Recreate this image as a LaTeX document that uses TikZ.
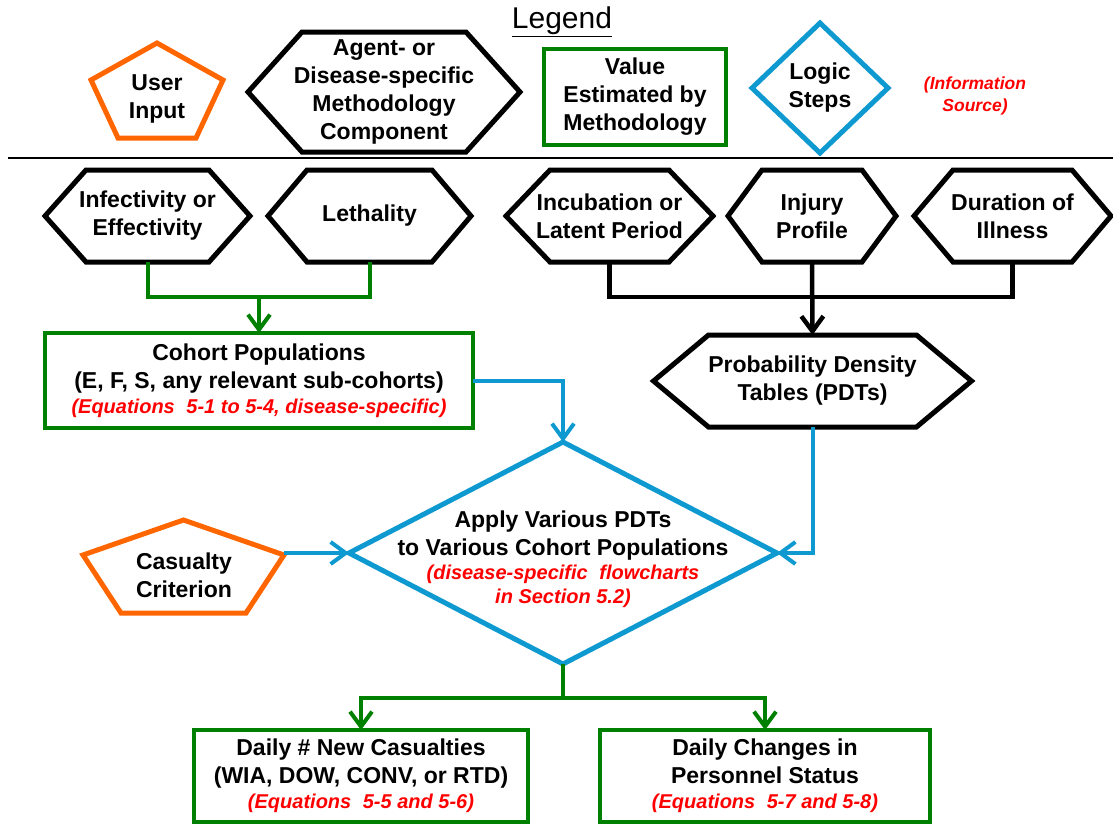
\documentclass[tikz,border=0pt]{standalone}
\usepackage{fontspec}
\setmainfont{Liberation Sans}
\usetikzlibrary{arrows.meta}
\definecolor{uorange}{HTML}{FF6600}
\definecolor{vgreen}{HTML}{008000}
\definecolor{lblue}{HTML}{0E9AD0}
\definecolor{srcred}{HTML}{FF0000}
\newcommand\srctext[1]{{\color{srcred}\bfseries\itshape\fontsize{20}{23}\selectfont #1}}
\newcommand\hexout[2]{\draw[hexline] (#1.west) -- ([xshift=#2pt]#1.north west) -- ([xshift=-#2pt]#1.north east) -- (#1.east) -- ([xshift=-#2pt]#1.south east) -- ([xshift=#2pt]#1.south west) -- cycle;}
\newcommand\diaout[1]{\draw[dialine] (#1.north) -- (#1.east) -- (#1.south) -- (#1.west) -- cycle;}
\newcommand\pentout[3]{\draw[pentline] (#1.north) -- ([yshift=-#2pt]#1.north east) -- ([xshift=-#3pt]#1.south east) -- ([xshift=#3pt]#1.south west) -- ([yshift=-#2pt]#1.north west) -- cycle;}
\begin{document}
\begin{tikzpicture}[x=1pt,y=-1pt,
  box/.style={inner sep=0pt, outer sep=0pt, align=center, font=\bfseries\fontsize{23}{28}\selectfont},
  hexline/.style={draw=black, line width=5pt, line join=miter},
  dialine/.style={draw=lblue, line width=5pt, line join=miter},
  pentline/.style={draw=uorange, line width=5pt, line join=miter},
  gbox/.style={box, draw=vgreen, line width=4.5pt},
  gline/.style={draw=vgreen, line width=4pt},
  bline/.style={draw=black, line width=4.5pt},
  lline/.style={draw=lblue, line width=4pt},
  arr/.style={-{Straight Barb[length=15pt,width=22pt]}},
  srcnode/.style={inner sep=0pt, align=center, text=srcred, font=\bfseries\itshape\fontsize{17.5}{22}\selectfont}
]
\useasboundingbox (0,0) rectangle (1113,825);

% ---------- legend ----------
\node[inner sep=0pt, font=\fontsize{30}{34}\selectfont] (leg) at (562,22) {\underline{Legend}};
\draw[line width=1.8pt] (8,158) -- (1113,158);

\node[box, minimum width=132pt, minimum height=95pt] (ui) at (157,90.5) {};
\pentout{ui}{37}{27}
\node[box] (uitxt) at (157,99) {User\\Input};

\node[box, minimum width=272pt, minimum height=120pt] (leghex) at (384,92) {Agent- or\\Disease-specific\\Methodology\\Component};
\hexout{leghex}{54}

\node[gbox, minimum width=182pt, minimum height=96pt] (legrect) at (635,97) {Value\\Estimated by\\Methodology};

\node[box, minimum width=136pt, minimum height=130pt] (legdia) at (820,88) {Logic\\Steps};
\diaout{legdia}

\node[srcnode] (info) at (975,96) {(Information\\Source)};

% ---------- row of inputs ----------
\node[box, minimum width=205pt, minimum height=92pt] (inf) at (147.5,216) {Infectivity or\\Effectivity};
\hexout{inf}{41}
\node[box, minimum width=203pt, minimum height=92pt] (leth) at (369.5,216) {Lethality};
\hexout{leth}{39}
\node[box, minimum width=207pt, minimum height=92pt] (inc) at (609.5,216) {Incubation or\\Latent Period};
\hexout{inc}{44}
\node[box, minimum width=168pt, minimum height=92pt] (inj) at (812,216) {Injury\\Profile};
\hexout{inj}{34}
\node[box, minimum width=197pt, minimum height=92pt] (dur) at (1012.5,216) {Duration of\\Illness};
\hexout{dur}{39}

% ---------- middle ----------
\node[gbox, minimum width=428pt, minimum height=95pt] (coh) at (259,380.5) {Cohort Populations\\(E, F, S, any relevant sub-cohorts)\\[-3pt]\srctext{(Equations\hspace{.3em} 5-1 to 5-4, disease-specific)}};

\node[box, minimum width=318pt, minimum height=92pt] (pdt) at (812.5,381) {Probability Density\\Tables (PDTs)};
\hexout{pdt}{55}

\node[box, minimum width=428pt, minimum height=222pt] (dia) at (563,553) {};
\diaout{dia}
\node[box] (diatxt) at (563,559) {Apply Various PDTs\\to Various Cohort Populations\\[-4pt]\srctext{(disease-specific\hspace{.3em} flowcharts}\\[-4pt]\srctext{in Section 5.2)}};

\node[box, minimum width=201pt, minimum height=93pt] (cas) at (183.5,566.5) {};
\pentout{cas}{35}{38}
\node[box] (castxt) at (184,575) {Casualty\\Criterion};

% ---------- outputs ----------
\node[gbox, minimum width=334pt, minimum height=92pt] (nc) at (361,776) {Daily \# New Casualties\\(WIA, DOW, CONV, or RTD)\\[-3pt]\srctext{(Equations\hspace{.3em} 5-5 and 5-6)}};
\node[gbox, minimum width=330pt, minimum height=92pt] (dc) at (765,776) {Daily Changes in\\Personnel Status\\[-3pt]\srctext{(Equations\hspace{.3em} 5-7 and 5-8)}};

% ---------- connectors ----------
\coordinate (gj) at (259,297);
\draw[gline] (inf.south) |- (leth.south |- gj) -- (leth.south);
\draw[gline, arr] (gj) -- (coh.north);

\coordinate (bj) at (812,297);
\draw[bline] (inc.south) |- (dur.south |- bj) -- (dur.south);
\draw[bline, arr] (inj.south) -- (pdt.north);

\draw[lline, arr] (coh.east) -| (dia.north);
\draw[lline, arr] (pdt.south) |- (dia.east);
\draw[lline, arr] (cas.east |- dia.west) -- (dia.west);

\coordinate (gb) at (563,698);
\draw[gline] (dia.south) -- (gb);
\draw[gline, arr] (gb) -| (nc.north);
\draw[gline, arr] (gb) -| (dc.north);
\end{tikzpicture}
\end{document}
